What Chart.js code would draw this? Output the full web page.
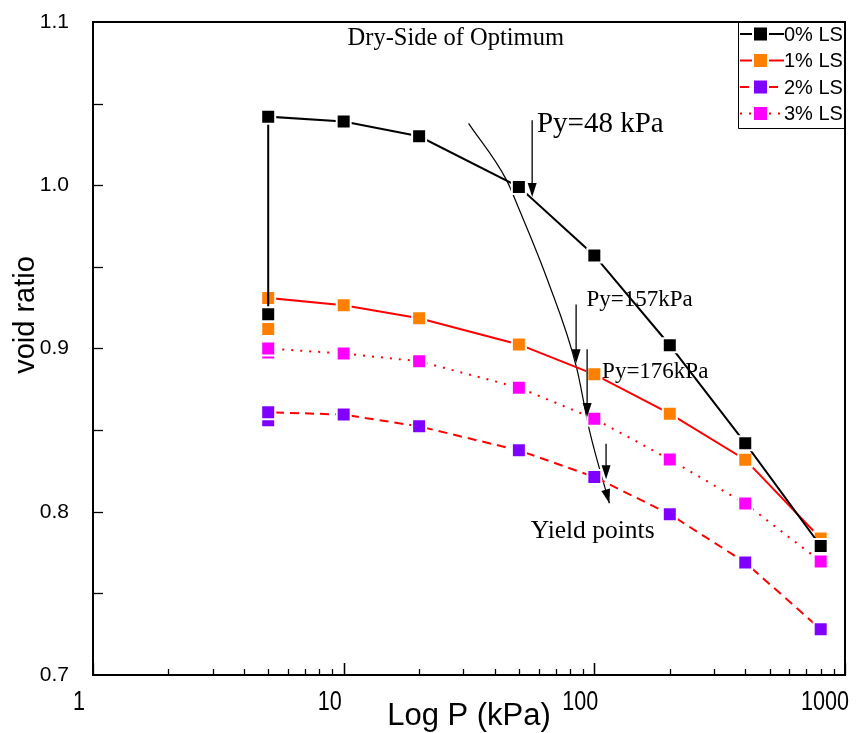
<!DOCTYPE html>
<html><head><meta charset="utf-8">
<script src="https://cdn.jsdelivr.net/npm/chart.js@4.4.1/dist/chart.umd.min.js"></script>
<style>html,body{margin:0;padding:0;background:#fff;} #wrap{width:861px;height:733px;}</style>
</head><body><div id="wrap"><canvas id="c" width="861" height="733"></canvas></div>
<script>
// ---- data ----
const pressure = [5, 5, 10, 20, 50, 100, 200, 400, 800];
const voidLS0 = [0.921, 1.042, 1.039, 1.030, 0.999, 0.957, 0.902, 0.842, 0.779];
const voidLS1 = [0.912, 0.931, 0.9265, 0.9185, 0.9025, 0.8842, 0.8601, 0.8319, 0.7836];
const voidLS2 = [0.856, 0.861, 0.8595, 0.8523, 0.8376, 0.8213, 0.7985, 0.7689, 0.728];
const voidLS3 = [0.8976, 0.900, 0.8969, 0.8922, 0.876, 0.857, 0.832, 0.805, 0.7696];
const seriesLabels = ['0% LS', '1% LS', '2% LS', '3% LS'];
const xTicks = [1, 10, 100, 1000];
const xTickLabels = ['1', '10', '100', '1000'];
const yTicks = [0.7, 0.8, 0.9, 1.0, 1.1];
const yTickLabels = ['0.7', '0.8', '0.9', '1.0', '1.1'];
const xTitle = 'Log P (kPa)';
const yTitle = 'void ratio';
// yield-point curve (P, e)
const yieldCurveP = [31.5, 44.7, 50.3, 65.1, 84.9, 95.6, 114.8];
const yieldCurveE = [1.0379, 1.003, 0.9847, 0.9418, 0.8885, 0.8499, 0.8052];
// annotation texts: [text, P, e, size, align]
const noteTexts = [
  ['Dry-Side of Optimum', 28, 1.090, 24.5, 'center'],
  ['Py=48 kPa', 59, 1.037, 29, 'left'],
  ['Py=157kPa', 93, 0.9295, 23, 'left'],
  ['Py=176kPa', 107.4, 0.8854, 23, 'left'],
  ['Yield points', 55.7, 0.788, 25.5, 'left']
];
// arrows: [P, eStart, eTip]
const arrows = [
  [56.5, 1.0398, 0.9928],
  [84.6, 0.927, 0.8909],
  [93.6, 0.8995, 0.858],
  [111.4, 0.8417, 0.8199]
];

const mk = (ys) => pressure.map((p, i) => ({x: p, y: ys[i]}));

const SANS = "'Liberation Sans', Arial, sans-serif";
const SERIF = "'Liberation Serif', 'Times New Roman', serif";

const datasets = [
  {label: seriesLabels[0], data: mk(voidLS0), borderColor: '#000', backgroundColor: '#000', borderWidth: 2, pointBackgroundColor: '#000'},
  {label: seriesLabels[1], data: mk(voidLS1), borderColor: '#ff0000', backgroundColor: '#ff8000', borderWidth: 2, pointBackgroundColor: '#ff8000'},
  {label: seriesLabels[2], data: mk(voidLS2), borderColor: '#ff0000', backgroundColor: '#8000ff', borderWidth: 2, borderDash: [9, 6], pointBackgroundColor: '#8000ff'},
  {label: seriesLabels[3], data: mk(voidLS3), borderColor: '#ff0000', backgroundColor: '#ff00ff', borderWidth: 2, borderDash: [2, 7], pointBackgroundColor: '#ff00ff'}
].map(d => Object.assign(d, {pointStyle: 'rect', pointRadius: 9.9, pointBorderColor: '#fff', pointBorderWidth: 2, tension: 0, fill: false}));

datasets.push({label: 'yield', data: yieldCurveP.map((p, i) => ({x: p, y: yieldCurveE[i]})),
  borderColor: '#000', borderWidth: 1.2, pointRadius: 0, tension: 0.4, cubicInterpolationMode: 'monotone', fill: false});

function arrowHead(ctx, x1, y1, x2, y2, len, half) {
  const a = Math.atan2(y2 - y1, x2 - x1);
  ctx.beginPath();
  ctx.moveTo(x2, y2);
  ctx.lineTo(x2 - len * Math.cos(a) + half * Math.sin(a), y2 - len * Math.sin(a) - half * Math.cos(a));
  ctx.lineTo(x2 - len * Math.cos(a) - half * Math.sin(a), y2 - len * Math.sin(a) + half * Math.cos(a));
  ctx.closePath();
  ctx.fill();
}

const decor = {
  id: 'decor',
  afterDraw(chart) {
    const {ctx, chartArea: a, scales: {x, y}} = chart;
    ctx.save();
    // frame
    ctx.strokeStyle = '#000';
    ctx.lineWidth = 2;
    ctx.strokeRect(a.left, a.top, a.right - a.left, a.bottom - a.top);
    // x ticks (inward)
    ctx.lineWidth = 1.3;
    for (let d = 1; d < 1000; d *= 10) {
      for (let m = 1; m <= 10; m++) {
        const v = d * m;
        const px = Math.round(x.getPixelForValue(v)) + 0.5;
        const len = (m === 1 || m === 10) ? 12 : 6;
        ctx.beginPath(); ctx.moveTo(px, a.bottom); ctx.lineTo(px, a.bottom - len); ctx.stroke();
      }
    }
    // y ticks
    for (let v = 0.75; v < 1.1; v += 0.05) {
      const py = Math.round(y.getPixelForValue(v)) + 0.5;
      ctx.beginPath(); ctx.moveTo(a.left, py); ctx.lineTo(a.left + 10, py); ctx.stroke();
    }
    // x tick labels (condensed)
    ctx.fillStyle = '#000';
    ctx.font = '27px ' + SANS;
    ctx.textAlign = 'center';
    ctx.textBaseline = 'middle';
    xTicks.forEach((v, i) => {
      const w = ctx.measureText(xTickLabels[i]).width * 0.8;
      const cx = Math.min(x.getPixelForValue(v) - 14, 849 - w / 2);
      ctx.save();
      ctx.translate(cx, a.bottom + 28);
      ctx.scale(0.8, 1);
      ctx.fillText(xTickLabels[i], 0, 0);
      ctx.restore();
    });
    // annotation texts
    ctx.textBaseline = 'middle';
    noteTexts.forEach(([t, p, e, s, al]) => {
      ctx.font = s + 'px ' + SERIF;
      ctx.textAlign = al;
      ctx.fillText(t, x.getPixelForValue(p), y.getPixelForValue(e));
    });
    // arrows
    ctx.strokeStyle = '#222';
    ctx.fillStyle = '#000';
    ctx.lineWidth = 1.5;
    arrows.forEach(([p, e0, e1]) => {
      const px = x.getPixelForValue(p), y0 = y.getPixelForValue(e0), y1 = y.getPixelForValue(e1);
      ctx.beginPath(); ctx.moveTo(px, y0); ctx.lineTo(px, y1 - 10); ctx.stroke();
      arrowHead(ctx, px, y0, px, y1, 14, 4.5);
    });
    // yield curve arrowhead
    const n = yieldCurveP.length;
    arrowHead(ctx, x.getPixelForValue(yieldCurveP[n - 2]), y.getPixelForValue(yieldCurveE[n - 2]),
      x.getPixelForValue(yieldCurveP[n - 1]), y.getPixelForValue(yieldCurveE[n - 1]), 14, 4.5);
    // legend
    const lx = 738, lb = 128;
    ctx.fillStyle = '#fff';
    ctx.fillRect(lx, a.top + 1, a.right - lx - 1, lb - a.top - 1);
    ctx.strokeStyle = '#000';
    ctx.lineWidth = 1;
    ctx.beginPath(); ctx.moveTo(lx + 0.5, a.top); ctx.lineTo(lx + 0.5, lb + 0.5); ctx.lineTo(a.right, lb + 0.5); ctx.stroke();
    ctx.font = '20px ' + SANS;
    ctx.textAlign = 'left';
    ctx.textBaseline = 'middle';
    for (let i = 0; i < 4; i++) {
      const ds = chart.data.datasets[i];
      const ly = a.top + 12 + i * 26.5;
      ctx.strokeStyle = ds.borderColor;
      ctx.lineWidth = 2;
      ctx.setLineDash(ds.borderDash || []);
      ctx.beginPath(); ctx.moveTo(lx + 2, ly); ctx.lineTo(lx + 14, ly); ctx.stroke();
      ctx.beginPath(); ctx.moveTo(lx + 31, ly); ctx.lineTo(lx + 46, ly); ctx.stroke();
      ctx.setLineDash([]);
      ctx.fillStyle = ds.pointBackgroundColor;
      ctx.fillRect(lx + 16, ly - 6.5, 13, 13);
      ctx.fillStyle = '#000';
      ctx.fillText(ds.label, lx + 46, ly + 1);
    }
    // axis titles
    ctx.fillStyle = '#000';
    ctx.font = '31px ' + SANS;
    ctx.textAlign = 'center';
    ctx.textBaseline = 'middle';
    ctx.fillText(xTitle, (a.left + a.right) / 2, 716);
    ctx.save();
    ctx.translate(26, 315);
    ctx.rotate(-Math.PI / 2);
    ctx.font = '29px ' + SANS;
    ctx.fillText(yTitle, 0, 0);
    ctx.restore();
    ctx.restore();
  }
};

new Chart(document.getElementById('c'), {
  type: 'line',
  data: {datasets},
  options: {
    responsive: false,
    animation: false,
    layout: {padding: {left: 0, right: 16, top: 22, bottom: 0}},
    plugins: {legend: {display: false}, tooltip: {enabled: false}},
    scales: {
      x: {
        type: 'logarithmic', min: 1, max: 1000,
        grid: {display: false, drawTicks: false}, border: {display: false},
        afterBuildTicks: s => { s.ticks = xTicks.map(v => ({value: v})); },
        afterFit: s => { s.height = 58; s.paddingLeft = 0; s.paddingRight = 0; },
        ticks: {display: false}
      },
      y: {
        min: 0.7, max: 1.1,
        grid: {display: false, drawTicks: false}, border: {display: false},
        afterBuildTicks: s => { s.ticks = yTicks.map(v => ({value: v})); },
        afterFit: s => { s.width = 93; s.paddingTop = 0; s.paddingBottom = 0; },
        ticks: {
          color: '#000', padding: 24,
          font: {family: SANS, size: 21},
          callback: (v) => { const i = yTicks.findIndex(t => Math.abs(t - v) < 1e-6); return i >= 0 ? yTickLabels[i] : ''; }
        }
      }
    }
  },
  plugins: [decor]
});
</script>
</body></html>
